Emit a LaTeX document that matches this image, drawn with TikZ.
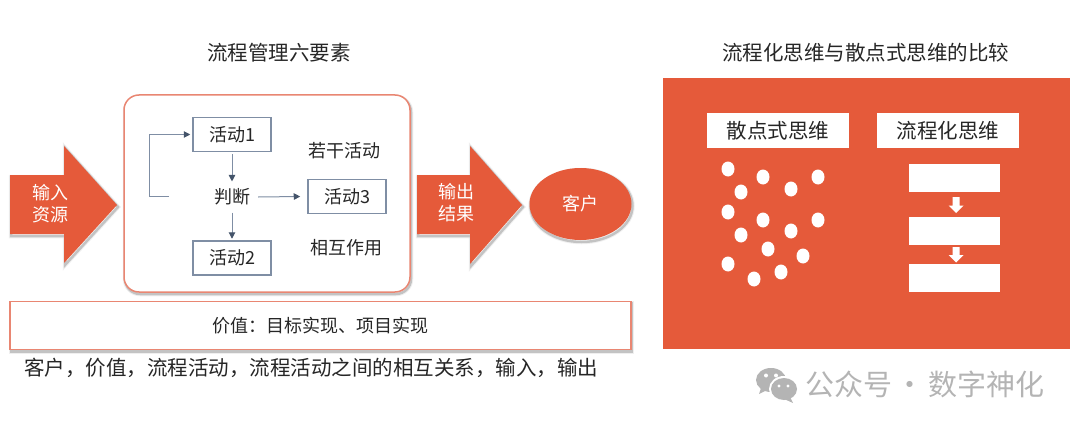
\documentclass[tikz,border=0pt]{standalone}
\usepackage{fontspec}
\setmainfont{Noto Sans CJK SC}
\usetikzlibrary{shadows,arrows.meta,shapes.geometric}
\definecolor{brand}{HTML}{E55A3A}
\definecolor{edgeor}{HTML}{E98672}
\definecolor{slateln}{HTML}{7F8EA4}
\definecolor{slatetip}{HTML}{44546A}
\definecolor{ink}{HTML}{262626}
\definecolor{wm}{HTML}{B4B4B4}
\tikzset{
 softshadow/.style={preaction={draw=black!60,line width=4.5pt,opacity=.10,transform canvas={xshift=1pt,yshift=-2pt}}, preaction={draw=black!60,line width=2.5pt,opacity=.32,transform canvas={xshift=1pt,yshift=-2pt}}},
 txt/.style={text=ink,font=\fontsize{18}{22}\selectfont,inner sep=0pt,align=center},
 big/.style={text=ink,font=\fontsize{20.5}{24}\selectfont,inner sep=0pt},
 wtxt/.style={text=white,font=\fontsize{18}{22}\selectfont,inner sep=0pt,align=center},
 act/.style={draw=slateln,line width=1.5pt,fill=white,minimum width=78pt,minimum height=34pt,inner sep=0pt,text=ink,font=\fontsize{18}{22}\selectfont},
 conn/.style={draw=slateln,line width=1pt,-{Triangle[length=6.5pt,width=6.5pt,color=slatetip,fill=slatetip]}},
 wbox/.style={fill=white,minimum width=142pt,minimum height=35pt,inner sep=0pt,text=ink,font=\fontsize{20.5}{24}\selectfont},
 flow/.style={fill=white,minimum width=91pt,minimum height=28pt,inner sep=0pt},
 dot/.style={fill=white,draw=none,ellipse,minimum width=13pt,minimum height=15pt,inner sep=0pt},
 bigarrow/.style={fill=brand,softshadow},
}
\begin{document}
\begin{tikzpicture}[x=1pt,y=-1pt]
\useasboundingbox (0,0) rectangle (1080,428);
% titles
\node[big] (t1) at (279,53) {流程管理六要素};
\node[big] (t2) at (865.5,53) {流程化思维与散点式思维的比较};
% input arrow
\path[bigarrow] (10,175) -- (64,175) -- (64,146) -- (117,205) -- (64,263) -- (64,234) -- (10,234) -- cycle;
\node[wtxt] (in) at (50,204) {输入\\资源};
% main box
\draw[draw=edgeor,line width=1.5pt,fill=white,rounded corners=15pt,softshadow] (124,95) rectangle (410,292);
\node[act] (a1) at (232,134.5) {活动1};
\node[act] (a2) at (232,258) {活动2};
\node[act] (a3) at (347,196.5) {活动3};
\node[txt] (pd) at (232,197) {判断};
\node[txt] (rg) at (344,151) {若干活动};
\node[txt] (xh) at (346,248) {相互作用};
\coordinate (fb) at (169,196);
\draw[conn] ([yshift=-2pt]a1.south) -- ([yshift=7pt]pd.north);
\draw[conn] ([yshift=-7pt]pd.south) -- ([yshift=1.5pt]a2.north);
\draw[conn] ([xshift=8pt]pd.east) -- ([xshift=-7pt]a3.west);
\draw[conn] (fb) -- (149,196) -- (149,134.5) -- ([xshift=-2pt]a1.west);
% output arrow
\path[bigarrow] (417,175) -- (470,175) -- (470,146) -- (522,205) -- (470,264) -- (470,234) -- (417,234) -- cycle;
\node[wtxt] (out) at (456,203) {输出\\结果};
% customer
\node[ellipse,fill=brand,minimum width=102pt,minimum height=72pt,inner sep=0pt,wtxt,softshadow] (kh) at (580.5,204) {客户};
% value box
\node[draw=edgeor,line width=1.5pt,fill=white,minimum width=621pt,minimum height=48pt,inner sep=0pt,softshadow,text=ink,font=\fontsize{18}{22}\selectfont] (val) at (320.5,325.5) {价值：目标实现、项目实现};
\node[big,anchor=west] (summary) at (24,368) {客户，价值，流程活动，流程活动之间的相互关系，输入，输出};
% right panel
\fill[brand] (663,78) rectangle (1070,349);
\node[wbox] (sd) at (778,130.5) {散点式思维};
\node[wbox] (lc) at (948,130.5) {流程化思维};
\foreach \n/\x/\y in {1/728/169,2/763/177,3/741/192,4/791/189,5/818/177,6/728/212,7/763/220,8/741/235,9/791/231,10/818/220,11/768/249,12/803/256,13/728/264,14/781/272,15/754/279}
  \node[dot] (d\n) at (\x,\y) {};
\node[flow] (f1) at (954.5,178) {};
\node[flow] (f2) at (954.5,230.5) {};
\node[flow] (f3) at (954.5,278) {};
\fill[white] (952.5,197) -- (959.5,197) -- (959.5,205.5) -- (963.5,205.5) -- (956,213) -- (948.5,205.5) -- (952.5,205.5) -- cycle;
\fill[white] (952.5,247) -- (959.5,247) -- (959.5,255) -- (963.5,255) -- (956,262.5) -- (948.5,255) -- (952.5,255) -- cycle;
% watermark
\fill[wm] (771,380) ellipse (15 and 12);
\fill[wm] (761,388) -- (759,394) -- (767,390) -- cycle;
\fill[white] (784,389) ellipse (15 and 13);
\fill[wm] (784,389) ellipse (13 and 11);
\fill[wm] (790,397) -- (793,403) -- (784,399) -- cycle;
\fill[white] (766,375.5) circle (2) (776,375.5) circle (2) (779,386) circle (1.7) (788,386) circle (1.7);
\node[inner sep=0pt,anchor=west,text=wm,font=\fontsize{29}{32}\selectfont] (wmt) at (805,384) {公众号\hspace{-3pt} · \hspace{-3pt}数字神化};
\end{tikzpicture}
\end{document}
